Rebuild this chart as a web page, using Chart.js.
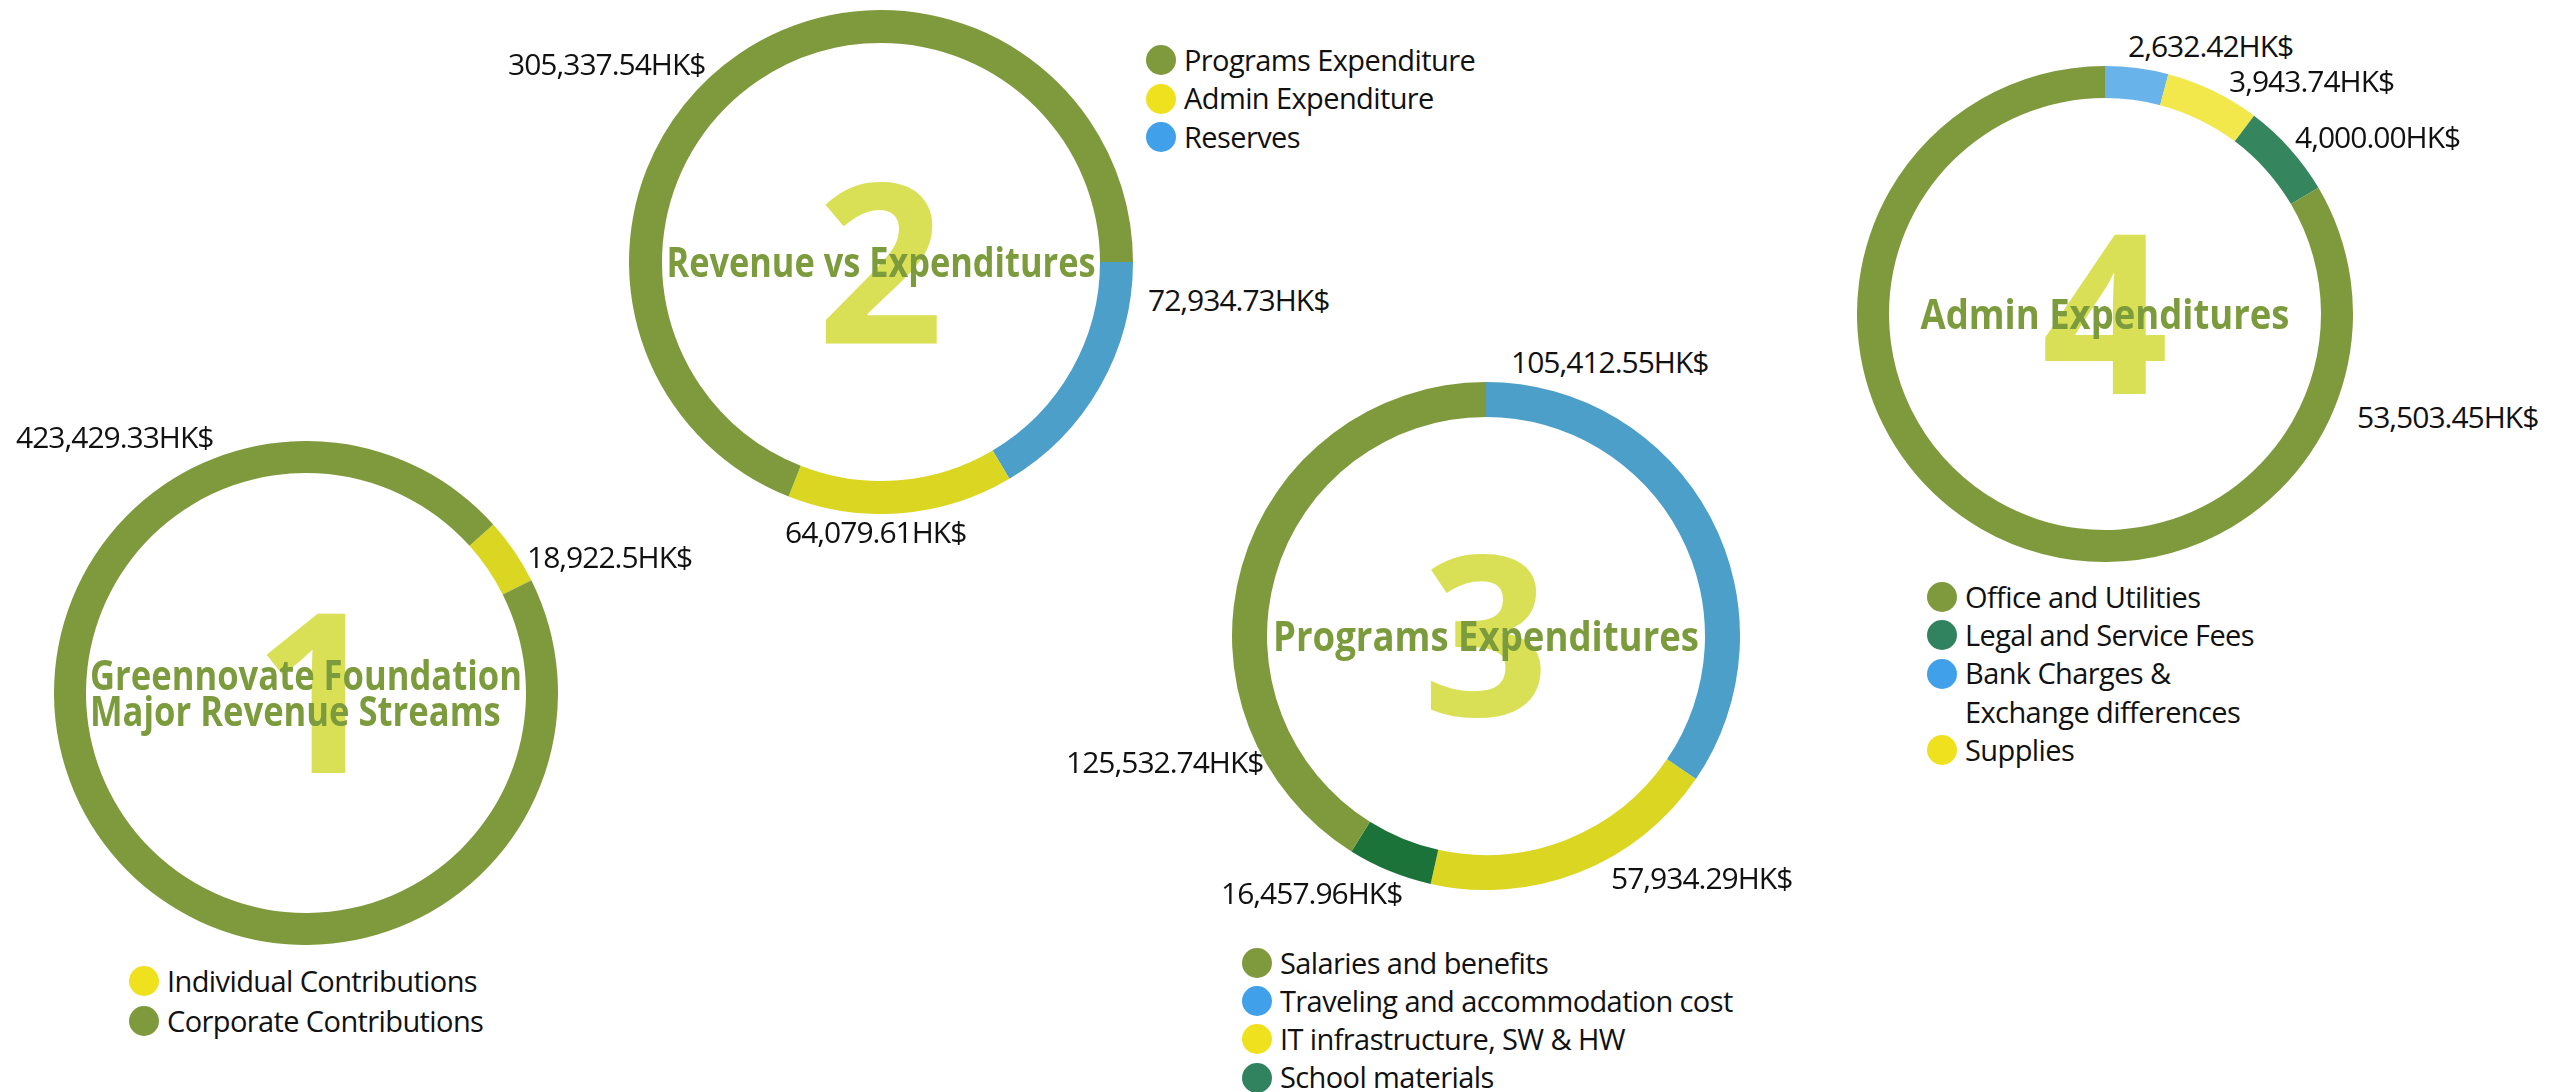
<!DOCTYPE html>
<html>
<head>
<meta charset="utf-8">
<title>Greennovate Foundation - Revenue and Expenditures</title>
<script src="https://cdn.jsdelivr.net/npm/chart.js@4.4.1/dist/chart.umd.min.js"></script>
<style>
  html, body { margin: 0; padding: 0; background: #fff; }
  body { position: relative; width: 2561px; height: 1092px; overflow: hidden; font-family: "Open Sans", sans-serif; color: #111; }
  canvas { position: absolute; }
  .val { position: absolute; font-size: 30px; line-height: 30px; letter-spacing: -1px; white-space: nowrap; }
  .legend { position: absolute; font-size: 29px; letter-spacing: -0.6px; }
  .legend .row { position: relative; height: 38.5px; line-height: 38.5px; padding-left: 23px; white-space: nowrap; }
  .legend .row.cont { padding-left: 23px; }
  .legend .dot { position: absolute; left: -15px; top: 4px; width: 30px; height: 30px; border-radius: 50%; }
</style>
</head>
<body>
<script>
// values (HK$)
const revenueLabels = ['Individual Contributions', 'Corporate Contributions'];
const revenueValues = [18922.5, 423429.33];

const balanceLabels = ['Programs Expenditure', 'Admin Expenditure', 'Reserves'];
const balanceValues = [305337.54, 64079.61, 72934.73];

const programLabels = ['Salaries and benefits', 'Traveling and accommodation cost', 'IT infrastructure, SW & HW', 'School materials'];
const programValues = [125532.74, 105412.55, 57934.29, 16457.96];

const adminLabels = ['Office and Utilities', 'Legal and Service Fees', 'Bank Charges &\nExchange differences', 'Supplies'];
const adminValues = [53503.45, 4000.00, 2632.42, 3943.74];

const OLIVE = '#7f9a3d';

function hk(v) {
  const d = (!Number.isInteger(v) && Number.isInteger(Math.round(v * 100) / 10)) ? 1 : 2;
  return v.toLocaleString('en-US', { minimumFractionDigits: d, maximumFractionDigits: d }) + 'HK$';
}

const charts = [
  {
    labels: revenueLabels, values: revenueValues,
    order: [0, 1], rotation: 48,
    cx: 306, cy: 693, r: 252, cutout: 220,
    colors: ['#dbd622', OLIVE], legendColors: ['#f0e11f', OLIVE],
    number: '1', title: ['Greennovate Foundation', 'Major Revenue Streams'], titleWidth: 432,
    valuePos: [[527, 558], [16, 438]],
    legend: { x: 144, y: 981, gap: 40 }
  },
  {
    labels: balanceLabels, values: balanceValues,
    order: [2, 1, 0], rotation: 90,
    cx: 881, cy: 262, r: 252, cutout: 219,
    colors: [OLIVE, '#dbd622', '#4c9fc9'], legendColors: [OLIVE, '#f0e11f', '#40a0ea'],
    number: '2', title: ['Revenue vs Expenditures'], titleWidth: 429,
    valuePos: [[508, 65], [785, 533], [1148, 301]],
    legend: { x: 1161, y: 60, gap: 38.5 }
  },
  {
    labels: programLabels, values: programValues,
    order: [1, 2, 3, 0], rotation: 0,
    cx: 1486, cy: 636, r: 254, cutout: 219,
    colors: [OLIVE, '#4c9fc9', '#dbd622', '#1b733a'], legendColors: [OLIVE, '#40a0ea', '#f0e11f', '#318360'],
    number: '3', title: ['Programs Expenditures'], titleWidth: 426,
    valuePos: [[1066, 763], [1511, 363], [1611, 879], [1221, 894]],
    legend: { x: 1257, y: 963, gap: 38.2 }
  },
  {
    labels: adminLabels, values: adminValues,
    order: [2, 3, 1, 0], rotation: 0,
    cx: 2105, cy: 314, r: 248, cutout: 216,
    colors: [OLIVE, '#35855f', '#67b3ea', '#f2e84b'], legendColors: [OLIVE, '#318360', '#40a0ea', '#f0e11f'],
    number: '4', title: ['Admin Expenditures'], titleWidth: 369,
    valuePos: [[2357, 418], [2295, 138], [2128, 47], [2229, 82]],
    legend: { x: 1942, y: 597, gap: 38.3 }
  }
];

// big faded number with the chart title laid over it
const centerText = {
  id: 'centerText',
  afterDatasetsDraw(chart, args, opts) {
    const ctx = chart.ctx;
    const arc = chart.getDatasetMeta(0).data[0];
    const cx = arc.x, cy = arc.y;
    ctx.save();
    ctx.textAlign = 'left';
    ctx.textBaseline = 'alphabetic';

    ctx.font = '700 222px "Open Sans"';
    ctx.fillStyle = '#d9e056';
    const m = ctx.measureText(opts.number);
    ctx.fillText(opts.number,
      cx - (m.actualBoundingBoxRight - m.actualBoundingBoxLeft) / 2,
      cy + (m.actualBoundingBoxAscent - m.actualBoundingBoxDescent) / 2);

    ctx.font = '700 41px "Open Sans"';
    ctx.fillStyle = '#7c9b3c';
    const capH = ctx.measureText('H').actualBoundingBoxAscent;
    const lineH = 36;
    const maxW = Math.max(...opts.title.map(t => ctx.measureText(t).width));
    const sx = Math.min(1, opts.titleWidth / maxW);
    const blockH = capH + (opts.title.length - 1) * lineH;
    let y = cy - blockH / 2 + capH;
    ctx.translate(cx, 0);
    ctx.scale(sx, 1);
    opts.title.forEach(t => {
      ctx.fillText(t, -maxW / 2, y);
      y += lineH;
    });
    ctx.restore();
  }
};

charts.forEach((c, i) => {
  const canvas = document.createElement('canvas');
  canvas.width = c.r * 2;
  canvas.height = c.r * 2;
  canvas.style.left = (c.cx - c.r) + 'px';
  canvas.style.top = (c.cy - c.r) + 'px';
  document.body.appendChild(canvas);

  new Chart(canvas, {
    type: 'doughnut',
    data: {
      labels: c.order.map(k => c.labels[k]),
      datasets: [{
        data: c.order.map(k => c.values[k]),
        backgroundColor: c.order.map(k => c.colors[k]),
        borderWidth: 0,
        hoverOffset: 0,
        offset: 0
      }]
    },
    options: {
      responsive: false,
      animation: false,
      rotation: c.rotation,
      cutout: c.cutout,
      layout: { padding: 0 },
      events: [],
      plugins: {
        legend: { display: false },
        tooltip: { enabled: false },
        centerText: { number: c.number, title: c.title, titleWidth: c.titleWidth }
      }
    },
    plugins: [centerText]
  });

  // value labels beside the ring
  c.values.forEach((v, k) => {
    const el = document.createElement('div');
    el.className = 'val';
    el.textContent = hk(v);
    el.style.left = c.valuePos[k][0] + 'px';
    el.style.top = (c.valuePos[k][1] - 16) + 'px';
    document.body.appendChild(el);
  });

  // legend
  const lg = document.createElement('div');
  lg.className = 'legend';
  lg.style.left = c.legend.x + 'px';
  lg.style.top = (c.legend.y - c.legend.gap / 2) + 'px';
  c.labels.forEach((name, k) => {
    name.split('\n').forEach((part, j) => {
      const row = document.createElement('div');
      row.className = 'row';
      row.style.height = row.style.lineHeight = c.legend.gap + 'px';
      if (j === 0) {
        const dot = document.createElement('span');
        dot.className = 'dot';
        dot.style.background = c.legendColors[k];
        dot.style.top = (c.legend.gap / 2 - 15) + 'px';
        row.appendChild(dot);
      }
      row.appendChild(document.createTextNode(part));
      lg.appendChild(row);
    });
  });
  document.body.appendChild(lg);
});
</script>
</body>
</html>
